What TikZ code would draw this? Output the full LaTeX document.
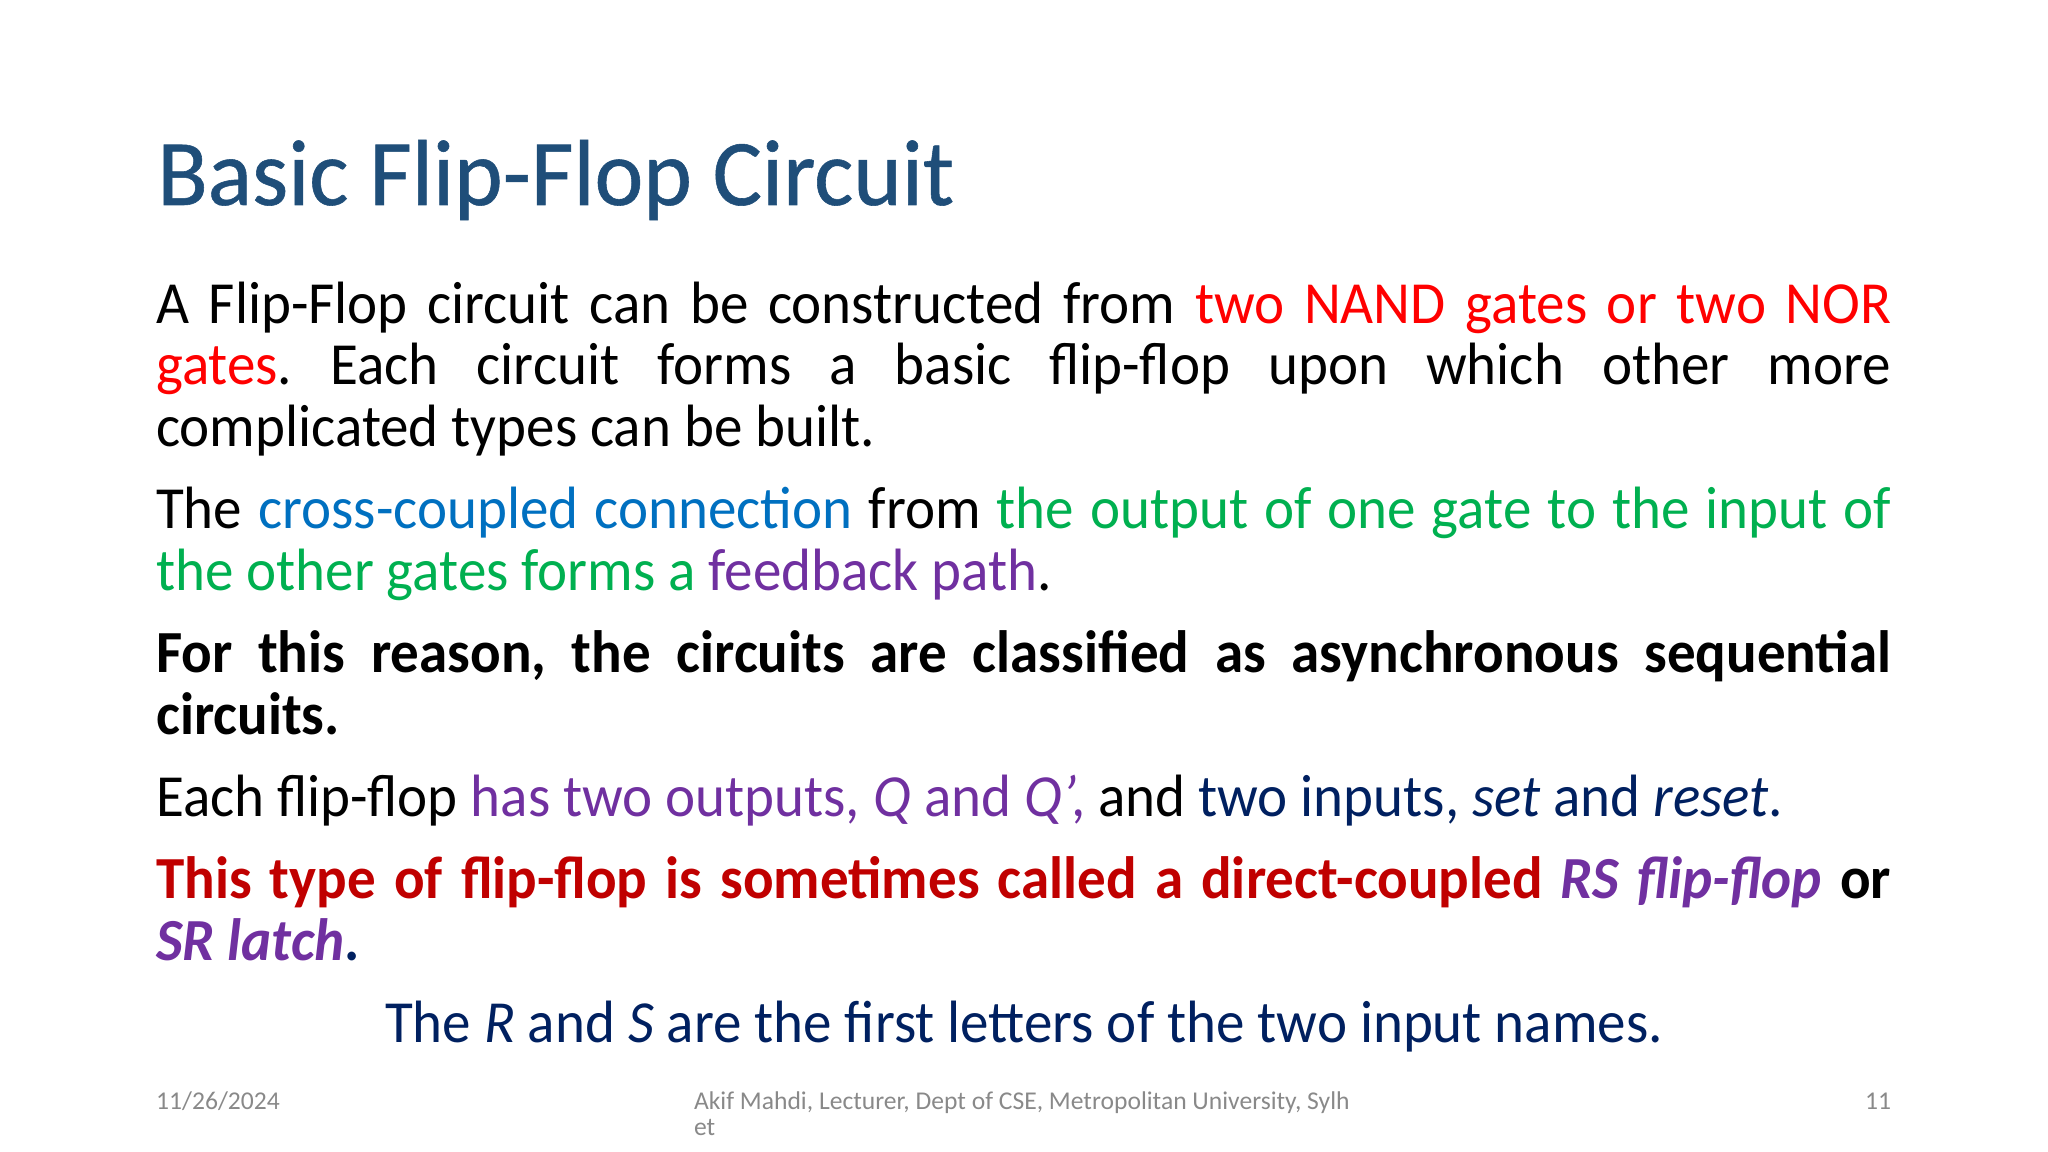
\documentclass[tikz,border=0pt]{standalone}
\usepackage{fontspec}
\setmainfont{Carlito}[FakeStretch=0.955]
\newfontfamily\titlefont{Carlito}[FakeStretch=0.985,FakeBold=0.6]
\newfontfamily\footfont{Carlito}
\definecolor{titleblue}{HTML}{1F4E79}
\definecolor{myred}{HTML}{FF0000}
\definecolor{myblue}{HTML}{0070C0}
\definecolor{mygreen}{HTML}{00B050}
\definecolor{mypurple}{HTML}{7030A0}
\definecolor{mynavy}{HTML}{002060}
\definecolor{mydark}{HTML}{C00000}
\definecolor{footgray}{HTML}{898989}
\newlength{\pxu}\setlength{\pxu}{0.46875pt}
\newcommand{\jl}[1]{\hbox to 1735\pxu{\spaceskip=.226em plus 1fil\relax #1}}
\tikzset{
 linetext/.style={anchor=base west,inner sep=0pt,outer sep=0pt,font=\fontsize{28}{34}\selectfont\frenchspacing},
 foot/.style={anchor=base west,inner sep=0pt,outer sep=0pt,font=\footfont\fontsize{12}{14}\selectfont,text=footgray}
}
\begin{document}
\begin{tikzpicture}[x=0.46875pt,y=-0.46875pt]
\useasboundingbox (0,0) rectangle (2048,1152);
\node[anchor=base west,inner sep=0pt,font=\titlefont\fontsize{44}{52}\selectfont,text=titleblue] (title) at (157,205) {Basic Flip-Flop Circuit};
\node[linetext] (l1) at (156.2,324) {\jl{A Flip-Flop circuit can be constructed from \textcolor{myred}{two NAND gates or two NOR}}};
\node[linetext] (l2) at (156.2,384) {\jl{\textcolor{myred}{gates}. Each circuit forms a basic flip-flop upon which other more}};
\node[linetext] (l3) at (156.2,446) {complicated types can be built.};
\node[linetext] (l4) at (156.2,528.5) {\jl{The \textcolor{myblue}{cross-coupled connection} from \textcolor{mygreen}{the output of one gate to the input of}}};
\node[linetext] (l5) at (156.2,590) {\textcolor{mygreen}{the other gates forms a }\textcolor{mypurple}{feedback path}.};
\node[linetext] (l6) at (156.2,672.5) {\jl{\bfseries For this reason, the circuits are classified as asynchronous sequential}};
\node[linetext] (l7) at (156.2,734) {\bfseries circuits.};
\node[linetext] (l8) at (156.2,816) {Each flip-flop \textcolor{mypurple}{has two outputs, \textit{Q} and \textit{Q’}\kern-.09em,} and \textcolor{mynavy}{two inputs, \textit{set} and \textit{reset}.}};
\node[linetext] (l9) at (156.2,898) {\jl{\bfseries \textcolor{mydark}{This type of flip-flop is sometimes called a direct-coupled} \textcolor{mypurple}{\textit{RS flip-flop}} or}};
\node[linetext] (l10) at (156.2,960) {\bfseries \textcolor{mypurple}{\textit{SR latch}}\textcolor{mynavy}{.}};
\node[linetext,anchor=base] (l11) at (1024,1042) {\textcolor{mynavy}{The \textit{R} and \textit{S} are the first letters of the two input names.}};
\node[foot] (f1) at (156.2,1109) {11/26/2024};
\node[foot] (f2) at (694,1109) {Akif Mahdi, Lecturer, Dept of CSE, Metropolitan University, Sylh};
\node[foot] (f3) at (694,1135) {et};
\node[foot,anchor=base east] (f4) at (1891,1109) {11};
\end{tikzpicture}
\end{document}
